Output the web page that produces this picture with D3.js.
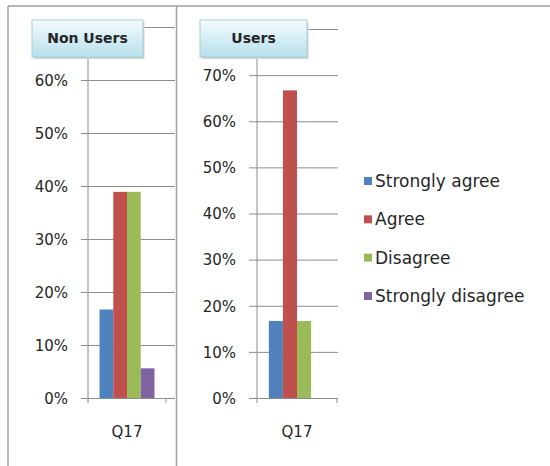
<!DOCTYPE html>
<html>
<head>
<meta charset="utf-8">
<style>
  body { margin: 0; background: #fff; }
  svg text { font-family: "DejaVu Sans", sans-serif; fill: #262626; }
</style>
</head>
<body>
<div id="chart"></div>
<script src="https://cdn.jsdelivr.net/npm/d3@7"></script>
<script>
  // data
  const categories = ['Q17'];
  const seriesNames = ['Strongly agree', 'Agree', 'Disagree', 'Strongly disagree'];
  const seriesColors = ['#4f81bd', '#c0504d', '#9bbb59', '#8064a2'];
  const nonUsersValues = [0.167, 0.389, 0.389, 0.056];
  const usersValues = [0.167, 0.667, 0.167, 0];
  const nonUsersTicks = [0, 0.1, 0.2, 0.3, 0.4, 0.5, 0.6, 0.7];
  const usersTicks = [0, 0.1, 0.2, 0.3, 0.4, 0.5, 0.6, 0.7, 0.8];

  const width = 550,
    height = 466;

  const svg = d3
    .select('#chart')
    .append('svg')
    .attr('width', width)
    .attr('height', height);

  const defs = svg.append('defs');
  const grad = defs
    .append('linearGradient')
    .attr('id', 'titleGrad')
    .attr('x1', '0%')
    .attr('y1', '0%')
    .attr('x2', '0%')
    .attr('y2', '100%');
  grad.append('stop').attr('offset', '0%').attr('stop-color', '#f4fbfd');
  grad.append('stop').attr('offset', '100%').attr('stop-color', '#b7e0ec');

  // outer frame + panel divider
  svg.append('line')
    .attr('x1', 8).attr('y1', 6).attr('x2', width).attr('y2', 6)
    .attr('stroke', '#a0a0a0').attr('stroke-width', 1.5);
  svg.append('line')
    .attr('x1', 8).attr('y1', 6).attr('x2', 8).attr('y2', height)
    .attr('stroke', '#a0a0a0').attr('stroke-width', 1.5);
  svg.append('line')
    .attr('x1', 176.5).attr('y1', 6).attr('x2', 176.5).attr('y2', height)
    .attr('stroke', '#a0a0a0').attr('stroke-width', 1.5);

  const fmt = d3.format('.0%');

  function drawPanel(cfg) {
    const g = svg.append('g');
    const yMax = d3.max(cfg.ticks);
    const y = d3
      .scaleLinear()
      .domain([0, yMax])
      .range([cfg.y0, cfg.yTop]);

    const x = d3
      .scaleBand()
      .domain(categories)
      .range([cfg.axisX, cfg.catEnd])
      .paddingInner(0)
      .paddingOuter(0.21);

    const xs = d3
      .scaleBand()
      .domain(seriesNames)
      .range([0, x.bandwidth()]);

    // gridlines + tick marks + labels (top label sits under the title box)
    const yAxis = d3
      .axisRight(y)
      .tickValues(cfg.ticks)
      .tickSize(cfg.gridEnd - cfg.tickStart)
      .tickFormat((d) => (d === yMax ? '' : fmt(d)));
    g.append('g')
      .attr('transform', 'translate(' + cfg.tickStart + ',0)')
      .call(yAxis)
      .call((a) => a.select('.domain').remove())
      .call((a) =>
        a.selectAll('.tick line').attr('stroke', '#8c8c8c').attr('stroke-width', 1)
      )
      .call((a) =>
        a
          .selectAll('.tick text')
          .attr('x', -13)
          .attr('dy', '0.35em')
          .attr('text-anchor', 'end')
          .attr('font-size', '15px')
          .attr('font-family', '"DejaVu Sans", sans-serif')
          .attr('fill', '#262626')
      );

    // bars
    g.append('g')
      .selectAll('rect')
      .data(cfg.values.map((v, i) => ({ name: seriesNames[i], value: v, color: seriesColors[i] })))
      .enter()
      .append('rect')
      .attr('x', (d) => x(categories[0]) + xs(d.name))
      .attr('y', (d) => y(d.value))
      .attr('width', xs.bandwidth())
      .attr('height', (d) => y(0) - y(d.value))
      .attr('fill', (d) => d.color);

    // vertical axis line
    g.append('line')
      .attr('x1', cfg.axisX).attr('x2', cfg.axisX)
      .attr('y1', y(0)).attr('y2', y(yMax))
      .attr('stroke', '#8c8c8c');

    // category axis
    const xAxis = d3
      .axisBottom(x)
      .tickSize(0)
      .tickPadding(28);
    const xg = g.append('g')
      .attr('transform', 'translate(0,' + y(0) + ')')
      .call(xAxis);
    xg.select('.domain').remove();
    xg.selectAll('text')
      .attr('font-size', '15px')
      .attr('font-family', '"DejaVu Sans", sans-serif')
      .attr('fill', '#262626');
    [cfg.axisX, cfg.catEnd].forEach((tx) => {
      xg.append('line')
        .attr('x1', tx).attr('x2', tx)
        .attr('y1', 0).attr('y2', 5)
        .attr('stroke', '#8c8c8c');
    });

    // title box
    const tb = g.append('g');
    tb.append('rect')
      .attr('x', cfg.box[0] + 1.5)
      .attr('y', cfg.box[1] + 2)
      .attr('width', cfg.box[2])
      .attr('height', cfg.box[3])
      .attr('fill', '#d4d4d4');
    tb.append('rect')
      .attr('x', cfg.box[0])
      .attr('y', cfg.box[1])
      .attr('width', cfg.box[2])
      .attr('height', cfg.box[3])
      .attr('fill', 'url(#titleGrad)')
      .attr('stroke', '#a9cbd6')
      .attr('stroke-width', 1);
    tb.append('text')
      .attr('x', cfg.box[0] + cfg.box[2] / 2)
      .attr('y', cfg.box[1] + cfg.box[3] / 2)
      .attr('dy', '0.35em')
      .attr('text-anchor', 'middle')
      .attr('font-size', '14px')
      .attr('font-weight', 'bold')
      .attr('fill', '#404040')
      .text(cfg.title);
  }

  drawPanel({
    title: 'Non Users',
    values: nonUsersValues,
    ticks: nonUsersTicks,
    y0: 398,
    yTop: 27,
    tickStart: 81,
    axisX: 88,
    catEnd: 166,
    gridEnd: 175,
    box: [32, 20, 111, 37],
  });

  drawPanel({
    title: 'Users',
    values: usersValues,
    ticks: usersTicks,
    y0: 398,
    yTop: 29,
    tickStart: 249,
    axisX: 257,
    catEnd: 337,
    gridEnd: 338,
    box: [200, 20, 107, 37],
  });

  // legend
  const ly = d3.scalePoint().domain(seriesNames).range([181, 296]);
  const legend = svg
    .append('g')
    .selectAll('g')
    .data(seriesNames)
    .enter()
    .append('g')
    .attr('transform', (d) => 'translate(364,' + ly(d) + ')');
  legend.append('rect')
    .attr('x', 0).attr('y', -4)
    .attr('width', 8).attr('height', 8)
    .attr('fill', (d, i) => seriesColors[i]);
  legend.append('text')
    .attr('x', 11)
    .attr('dy', '0.35em')
    .attr('font-size', '17px')
    .text((d) => d);
</script>
</body>
</html>
